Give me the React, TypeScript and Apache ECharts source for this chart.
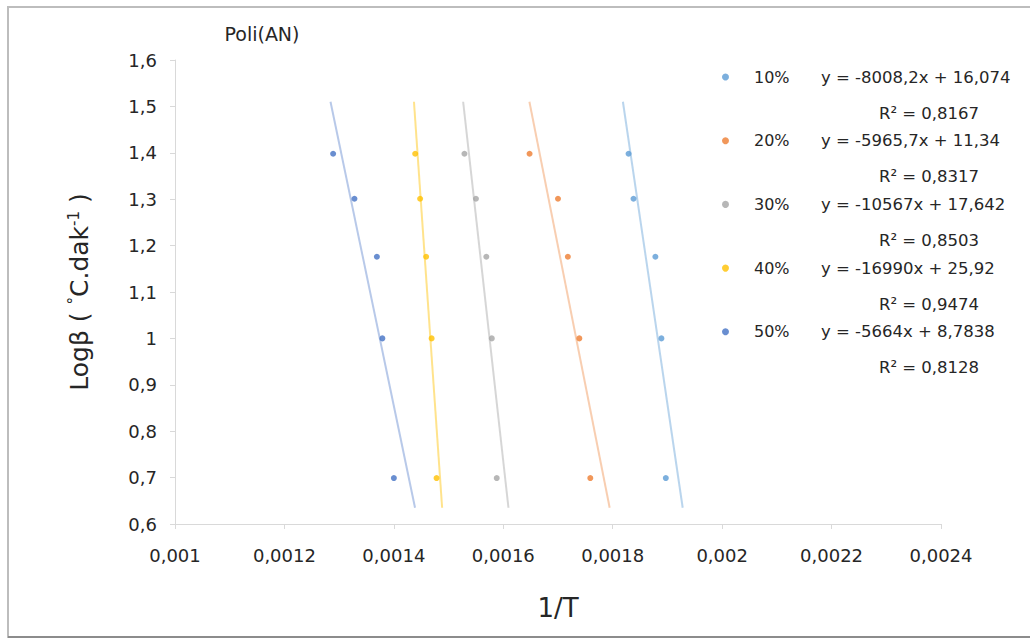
import React, { useEffect, useRef } from "react";
import * as echarts from "echarts";

// Heating-rate series of Poli(AN): log(beta) against 1/T
const SERIES_NAMES = ["10%", "20%", "30%", "40%", "50%"];
const COLORS = ["#5B9BD5", "#ED7D31", "#A5A5A5", "#FFC000", "#4472C4"];
const TREND_COLORS = [
  "rgba(91,155,213,0.42)",
  "rgba(237,125,49,0.38)",
  "rgba(165,165,165,0.45)",
  "rgba(255,192,0,0.45)",
  "rgba(68,114,196,0.38)",
];

// log(beta) for beta = 5, 10, 15, 20, 25 °C/dak
const LOG_BETA = [0.699, 1.0, 1.176, 1.301, 1.398];

// 1/T values for each conversion
const INV_T_10 = [0.001897, 0.001889, 0.001878, 0.001838, 0.001829];
const INV_T_20 = [0.001759, 0.001739, 0.001718, 0.0017, 0.001648];
const INV_T_30 = [0.001588, 0.001579, 0.001569, 0.00155, 0.001529];
const INV_T_40 = [0.001478, 0.001469, 0.001459, 0.001448, 0.001439];
const INV_T_50 = [0.0014, 0.001379, 0.001369, 0.001328, 0.001289];
const INV_T = [INV_T_10, INV_T_20, INV_T_30, INV_T_40, INV_T_50];

// Linear fits y = m x + b and their R²
const SLOPES = [-8008.2, -5965.7, -10567, -16990, -5664];
const INTERCEPTS = [16.074, 11.34, 17.642, 25.92, 8.7838];
const R_SQUARED = [0.8167, 0.8317, 0.8503, 0.9474, 0.8128];

// Vertical extent of the drawn fit lines
const TREND_LOG_RANGE = [0.635, 1.51];

const FONT = "'DejaVu Sans', sans-serif";
const TEXT_COLOR = "#262626";

const comma = (v: number) => String(v).replace(".", ",");

export default function App() {
  const ref = useRef<HTMLDivElement>(null);

  useEffect(() => {
    if (!ref.current) return;
    const chart = echarts.init(ref.current, undefined, { renderer: "svg" });

    const scatterSeries = SERIES_NAMES.map((name, i) => ({
      name,
      type: "scatter",
      symbol: "circle",
      symbolSize: 6,
      itemStyle: { color: COLORS[i] },
      data: INV_T[i].map((x, k) => [x, LOG_BETA[k]]),
      z: 3,
    }));

    const trendSeries = SERIES_NAMES.map((name, i) => ({
      name: `${name} fit`,
      type: "line",
      symbol: "none",
      lineStyle: { color: TREND_COLORS[i], width: 2 },
      data: TREND_LOG_RANGE.map((y) => [(y - INTERCEPTS[i]) / SLOPES[i], y]),
      z: 2,
      silent: true,
    }));

    const rowTop = 77;
    const rowStep = 63.7;
    const fitTexts: any[] = [];
    SERIES_NAMES.forEach((_, i) => {
      const eq = `y = ${comma(SLOPES[i])}x + ${comma(INTERCEPTS[i])}`;
      fitTexts.push({
        type: "text",
        x: 821,
        y: rowTop + i * rowStep,
        style: {
          text: eq,
          font: `16.5px ${FONT}`,
          fill: TEXT_COLOR,
          align: "left",
          verticalAlign: "middle",
        },
      });
      fitTexts.push({
        type: "text",
        x: 929,
        y: rowTop + i * rowStep + 36,
        style: {
          text: `R² = ${comma(R_SQUARED[i])}`,
          font: `16.5px ${FONT}`,
          fill: TEXT_COLOR,
          align: "center",
          verticalAlign: "middle",
        },
      });
    });

    chart.setOption({
      animation: false,
      backgroundColor: "#ffffff",
      textStyle: { fontFamily: FONT },
      title: {
        text: "Poli(AN)",
        left: 262,
        top: 24,
        textAlign: "center",
        padding: 0,
        textStyle: { fontSize: 19, fontWeight: "normal", color: TEXT_COLOR, fontFamily: FONT },
      },
      grid: { left: 175, right: 89, top: 60, bottom: 118 },
      legend: {
        data: SERIES_NAMES,
        orient: "vertical",
        left: 722,
        top: rowTop - 9,
        padding: 0,
        icon: "circle",
        itemWidth: 7,
        itemHeight: 7,
        itemGap: rowStep - 18,
        textStyle: {
          fontSize: 16,
          color: TEXT_COLOR,
          fontFamily: FONT,
          lineHeight: 18,
          padding: [0, 0, 0, 20],
        },
      },
      xAxis: {
        type: "value",
        min: 0.001,
        max: 0.0024,
        interval: 0.0002,
        name: "1/T",
        nameLocation: "middle",
        nameGap: 71,
        nameTextStyle: { fontSize: 26, color: TEXT_COLOR, fontFamily: FONT },
        axisLine: { show: true, lineStyle: { color: "#d9d9d9", width: 1 } },
        axisTick: { show: true, length: 5, lineStyle: { color: "#d9d9d9" } },
        splitLine: { show: false },
        axisLabel: {
          margin: 22,
          fontSize: 18,
          color: TEXT_COLOR,
          fontFamily: FONT,
          formatter: (v: number) => comma(Number(v.toFixed(4))),
        },
      },
      yAxis: {
        type: "value",
        min: 0.6,
        max: 1.6,
        interval: 0.1,
        name: "Logβ ( {sup|°}C.dak{sup|-1} )",
        nameLocation: "middle",
        nameRotate: 90,
        nameGap: 82,
        nameTextStyle: {
          fontSize: 25,
          color: TEXT_COLOR,
          fontFamily: FONT,
          rich: {
            sup: {
              fontSize: 15,
              verticalAlign: "top",
              padding: [0, 0, 12, 0],
              color: TEXT_COLOR,
              fontFamily: FONT,
            },
          },
        },
        axisLine: { show: true, lineStyle: { color: "#d9d9d9", width: 1 } },
        axisTick: { show: true, length: 5, lineStyle: { color: "#d9d9d9" } },
        splitLine: { show: false },
        axisLabel: {
          margin: 18,
          fontSize: 18,
          color: TEXT_COLOR,
          fontFamily: FONT,
          formatter: (v: number) => comma(Number(v.toFixed(1))),
        },
      },
      graphic: [
        {
          type: "rect",
          shape: { x: 8, y: 7, width: 1030, height: 630 },
          style: { fill: "none", stroke: "#bdbdbd", lineWidth: 2 },
          silent: true,
        },
        {
          type: "line",
          shape: { x1: 8, y1: 637, x2: 1030, y2: 637 },
          style: { stroke: "#8c8c8c", lineWidth: 2 },
          silent: true,
        },
        ...fitTexts,
      ],
      series: [...trendSeries, ...scatterSeries],
    });

    return () => chart.dispose();
  }, []);

  return (
    <div
      ref={ref}
      style={{ position: "absolute", left: 0, top: 0, width: 1030, height: 642 }}
    />
  );
}
